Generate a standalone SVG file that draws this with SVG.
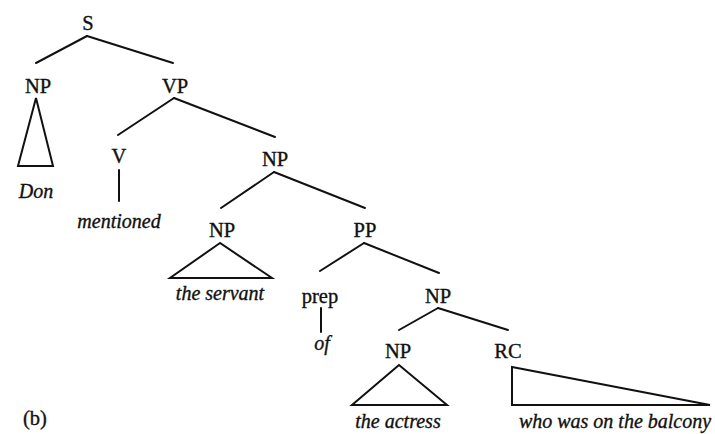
<svg xmlns="http://www.w3.org/2000/svg" width="715" height="434" viewBox="0 0 715 434">
  <style>
    .lbl { font-family: "Liberation Serif", "Times New Roman", serif; font-size: 20.5px; fill: #111; stroke: #111; stroke-width: 0.35; text-anchor: middle; }
    .word { font-family: "Liberation Serif", "Times New Roman", serif; font-size: 20px; font-style: italic; fill: #111; stroke: #111; stroke-width: 0.35; text-anchor: middle; }
    .edge { stroke: #111; stroke-width: 2; fill: none; stroke-linecap: round; }
    .tri { stroke: #111; stroke-width: 2; fill: none; stroke-linejoin: miter; }
  </style>
  <rect width="715" height="434" fill="#fff"/>

  <!-- tree branches -->
  <g id="connectors">
    <line class="edge" x1="87" y1="36" x2="36" y2="63"/>
    <line class="edge" x1="87" y1="36" x2="173" y2="63"/>
    <line class="edge" x1="174" y1="98" x2="118" y2="135"/>
    <line class="edge" x1="174" y1="98" x2="275" y2="137"/>
    <line class="edge" x1="274" y1="172" x2="221" y2="208"/>
    <line class="edge" x1="274" y1="172" x2="365" y2="208"/>
    <line class="edge" x1="364" y1="243" x2="320" y2="271"/>
    <line class="edge" x1="364" y1="243" x2="439" y2="273"/>
    <line class="edge" x1="438" y1="308" x2="399" y2="330"/>
    <line class="edge" x1="438" y1="308" x2="508" y2="330"/>
  </g>

  <g id="node-s"><text class="lbl" x="88" y="30">S</text></g>

  <g id="node-np-subject">
    <text class="lbl" x="38" y="93">NP</text>
    <polygon class="tri" points="36,98 18,166 53,166"/>
    <text class="word" x="36" y="198">Don</text>
  </g>

  <g id="node-vp"><text class="lbl" x="175" y="93">VP</text></g>

  <g id="node-v">
    <text class="lbl" x="119" y="163">V</text>
    <line class="edge" x1="119" y1="170" x2="119" y2="201"/>
    <text class="word" x="119" y="228">mentioned</text>
  </g>

  <g id="node-np-object"><text class="lbl" x="275" y="166">NP</text></g>

  <g id="node-np-servant">
    <text class="lbl" x="222" y="237">NP</text>
    <polygon class="tri" points="220,243 170,278 272,278"/>
    <text class="word" x="220" y="300">the servant</text>
  </g>

  <g id="node-pp"><text class="lbl" x="365" y="237">PP</text></g>

  <g id="node-prep">
    <text class="lbl" x="320" y="303">prep</text>
    <line class="edge" x1="321" y1="308" x2="321" y2="332"/>
    <text class="word" x="322" y="350">of</text>
  </g>

  <g id="node-np-pobj"><text class="lbl" x="438" y="303">NP</text></g>

  <g id="node-np-actress">
    <text class="lbl" x="398" y="358">NP</text>
    <polygon class="tri" points="399,365 352,405 447,405"/>
    <text class="word" x="398" y="428">the actress</text>
  </g>

  <g id="node-rc">
    <text class="lbl" x="508" y="358">RC</text>
    <polygon class="tri" points="512,367 512,405 710,405"/>
    <text class="word" x="615" y="428">who was on the balcony</text>
  </g>

  <g id="panel-label"><text class="lbl" x="35" y="425">(b)</text></g>
</svg>
